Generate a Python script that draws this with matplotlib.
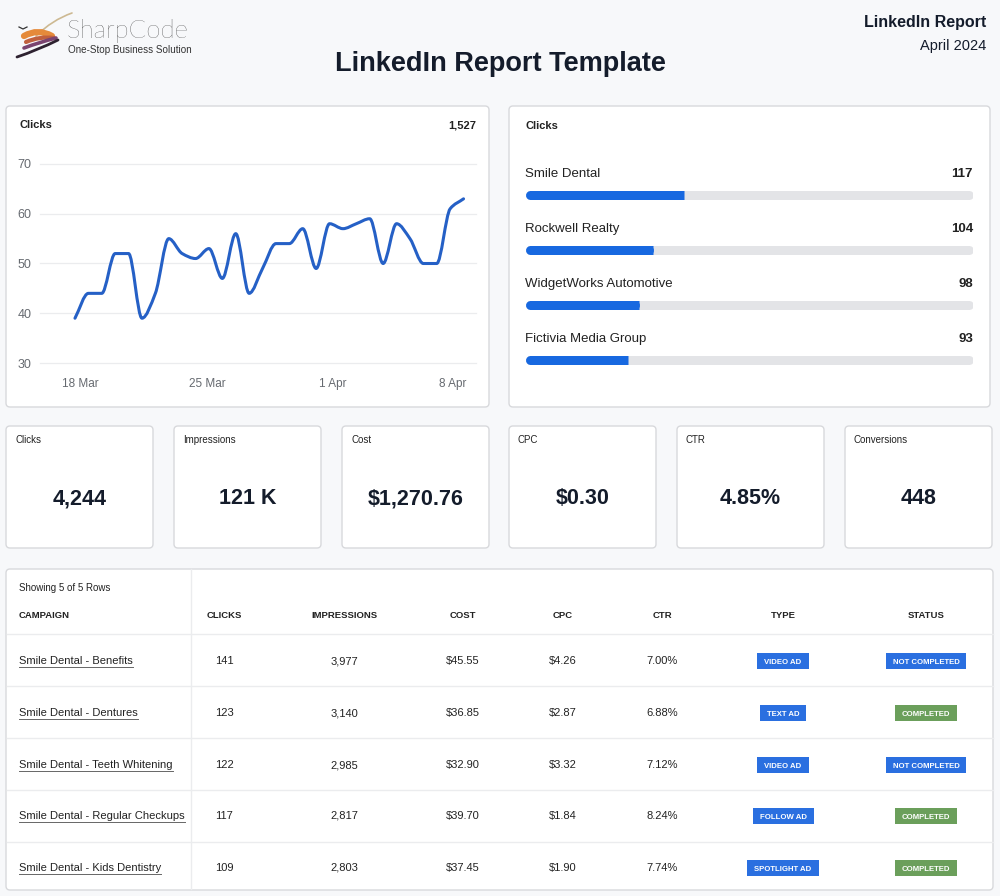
import numpy as np
import matplotlib
matplotlib.use("Agg")
import matplotlib.pyplot as plt
from matplotlib.patches import FancyBboxPatch, PathPatch, Rectangle
from matplotlib.path import Path

plt.rcParams['font.family'] = ['Liberation Sans', 'DejaVu Sans']

W, H = 1000, 896

# ---- data ----
click_values = [39, 44, 44, 52, 52, 39, 44, 55, 52, 51, 53, 47, 56, 44, 49,
                54, 54, 57, 49, 58, 57, 58, 59, 50, 58, 55, 50, 50, 61, 63]
date_labels = ["18 Mar", "25 Mar", "1 Apr", "8 Apr"]
date_label_pos = [0.4, 9.9, 19.25, 28.2]
y_ticks = [30, 40, 50, 60, 70]
clicks_total = "1,527"

accounts = ["Smile Dental", "Rockwell Realty", "WidgetWorks Automotive", "Fictivia Media Group"]
account_clicks = [117, 104, 98, 93]

kpi_names = ["Clicks", "Impressions", "Cost", "CPC", "CTR", "Conversions"]
kpi_values = ["4,244", "121 K", "$1,270.76", "$0.30", "4.85%", "448"]

table_cols = ["CAMPAIGN", "CLICKS", "IMPRESSIONS", "COST", "CPC", "CTR", "TYPE", "STATUS"]
campaigns = ["Smile Dental - Benefits", "Smile Dental - Dentures", "Smile Dental - Teeth Whitening",
             "Smile Dental - Regular Checkups", "Smile Dental - Kids Dentistry"]
camp_clicks = [141, 123, 122, 117, 109]
camp_impr = ["3,977", "3,140", "2,985", "2,817", "2,803"]
camp_cost = ["$45.55", "$36.85", "$32.90", "$39.70", "$37.45"]
camp_cpc = ["$4.26", "$2.87", "$3.32", "$1.84", "$1.90"]
camp_ctr = ["7.00%", "6.88%", "7.12%", "8.24%", "7.74%"]
camp_type = ["VIDEO AD", "TEXT AD", "VIDEO AD", "FOLLOW AD", "SPOTLIGHT AD"]
camp_status = ["NOT COMPLETED", "COMPLETED", "NOT COMPLETED", "COMPLETED", "COMPLETED"]

# ---- colours ----
BG = '#f7f8fa'
BORDER = '#d8d9dc'
DARK = '#141c2b'
TEXT = '#222222'
GRAY = '#666a70'
LINE_BLUE = '#2560c6'
BAR_BLUE = '#1768e0'
TRACK = '#e3e4e7'
BADGE_BLUE = '#2a6fe0'
BADGE_GREEN = '#6b9f5b'
RULE = '#ebecee'

fig = plt.figure(figsize=(W / 100, H / 100), dpi=100)
fig.patch.set_facecolor(BG)

bg = fig.add_axes([0, 0, 1, 1])
bg.set_xlim(0, W)
bg.set_ylim(H, 0)
bg.axis('off')


def px_axes(x0, y0, x1, y1):
    return fig.add_axes([x0 / W, 1 - y1 / H, (x1 - x0) / W, (y1 - y0) / H])


def card(x0, y0, x1, y1):
    bg.add_patch(FancyBboxPatch((x0, y0), x1 - x0, y1 - y0,
                                boxstyle='round,pad=0,rounding_size=4',
                                fc='white', ec=BORDER, lw=1.0))


def stroke(p0, c, p1, color, lw):
    bg.add_patch(PathPatch(Path([p0, c, p1], [Path.MOVETO, Path.CURVE3, Path.CURVE3]),
                           fc='none', ec=color, lw=lw, capstyle='round'))


# ---- header ----
# rough logo swoosh
stroke((36, 36), (52, 20), (72, 13), '#cdb992', 1.2)
stroke((24, 36), (38, 28), (52, 36), '#e58a3a', 4.5)
stroke((26, 42), (40, 36), (54, 38), '#c0603e', 3.0)
stroke((24, 48), (40, 42), (56, 38), '#7a4470', 2.6)
stroke((17, 57), (38, 50), (58, 40), '#2e2230', 2.0)
bg.plot([19, 23, 27], [27, 29, 27], color='#333333', lw=0.9)
bg.text(67, 31, "SharpCode", fontsize=18.5, family=['Lato', 'DejaVu Sans'], weight='light',
        color='#1c1c1c', va='center', ha='left')
bg.text(68, 50, "One-Stop Business Solution", fontsize=7.1, color='#333333', va='center', ha='left')

bg.text(500, 64, "LinkedIn Report Template", fontsize=19.5, weight='bold', color=DARK,
        ha='center', va='center')
bg.text(986, 22, "LinkedIn Report", fontsize=11.5, weight='bold', color=DARK, ha='right', va='center')
bg.text(986, 46, "April 2024", fontsize=10.5, color=DARK, ha='right', va='center')

# ---- line chart panel ----
card(6, 106, 489, 407)
bg.text(20, 125, "Clicks", fontsize=8, weight='semibold', color=TEXT, va='center')
bg.text(476, 125, clicks_total, fontsize=8, weight='bold', color=TEXT, va='center', ha='right')


def monotone_path(xs, ys):
    xs = np.asarray(xs, float)
    ys = np.asarray(ys, float)
    d = np.diff(ys) / np.diff(xs)
    m = np.zeros_like(ys)
    m[0], m[-1] = d[0], d[-1]
    for i in range(1, len(ys) - 1):
        if d[i - 1] * d[i] <= 0:
            m[i] = 0
        else:
            m[i] = 2 / (1 / d[i - 1] + 1 / d[i])
    verts = [(xs[0], ys[0])]
    codes = [Path.MOVETO]
    for i in range(len(xs) - 1):
        h = xs[i + 1] - xs[i]
        verts += [(xs[i] + h / 3, ys[i] + m[i] * h / 3),
                  (xs[i + 1] - h / 3, ys[i + 1] - m[i + 1] * h / 3),
                  (xs[i + 1], ys[i + 1])]
        codes += [Path.CURVE4] * 3
    return Path(verts, codes)


ax = px_axes(40, 164, 476, 363)
ax.set_facecolor('none')
xs = np.arange(len(click_values))
ax.add_patch(PathPatch(monotone_path(xs, click_values), fc='none', ec=LINE_BLUE, lw=2.2,
                       capstyle='round', joinstyle='round'))
ax.set_xlim(-2.61, 29.93)
ax.set_ylim(30, 70)
ax.set_yticks(y_ticks)
ax.set_xticks(date_label_pos)
ax.set_xticklabels(date_labels)
ax.grid(axis='y', color=RULE, lw=0.9)
ax.set_axisbelow(True)
for s in ax.spines.values():
    s.set_visible(False)
ax.tick_params(axis='y', length=0, pad=6, labelsize=9, labelcolor=GRAY)
ax.tick_params(axis='x', length=0, pad=11, labelsize=8.5, labelcolor=GRAY)
for gl in ax.get_ygridlines():
    gl.set_clip_on(False)

# ---- account bars panel ----
card(509, 106, 990, 407)
bg.text(525, 126, "Clicks", fontsize=8, weight='semibold', color=TEXT, va='center')

lo, hi = 49, 241
bx = px_axes(525, 140, 973, 415)
bx.set_xlim(lo, hi)
bx.set_ylim(4, -1)
bx.axis('off')
bar_lw = 9 * 72 / 100
cap = 4.5 * (hi - lo) / 448
for i, (name, v) in enumerate(zip(accounts, account_clicks)):
    bx.plot([lo + cap, hi - cap], [i, i], color=TRACK, lw=bar_lw, solid_capstyle='round')
    bx.plot([lo + cap, v - cap], [i, i], color=BAR_BLUE, lw=bar_lw, solid_capstyle='round')
    bx.plot([lo + cap, v], [i, i], color=BAR_BLUE, lw=bar_lw, solid_capstyle='butt')
    bx.text(lo, i - 0.38, name, fontsize=9.5, color=TEXT, va='center', ha='left', clip_on=False)
    bx.text(hi, i - 0.38, str(v), fontsize=9.5, weight='bold', color=TEXT, va='center',
            ha='right', clip_on=False)

# ---- KPI cards ----
kpi_x = [6, 174, 342, 509, 677, 845]
for x0, name, val in zip(kpi_x, kpi_names, kpi_values):
    card(x0, 426, x0 + 147, 548)
    bg.text(x0 + 9, 440, name, fontsize=7, color=TEXT, va='center')
    bg.text(x0 + 73.5, 499, val, fontsize=15.5, weight='bold', color=DARK, ha='center', va='center')

# ---- table ----
card(6, 569, 993, 890)
bg.plot([191, 191], [569.5, 889.5], color=RULE, lw=1)
bg.text(19, 588, "Showing 5 of 5 Rows", fontsize=7, color=TEXT, va='center')
col_x = [19, 224, 344, 463, 563, 662, 783, 926]
for cx, col in zip(col_x, table_cols):
    bg.text(cx, 615, col, fontsize=6.8, weight='bold', color=TEXT, va='center',
            ha='left' if col == "CAMPAIGN" else 'center')

row_y = [661, 713, 765, 816, 868]
for ly in [634, 686, 738, 790, 842]:
    bg.plot([6.5, 992.5], [ly, ly], color=RULE, lw=1)

fig.canvas.draw()
renderer = fig.canvas.get_renderer()
inv = bg.transData.inverted()


def badge(cx, cy, label, color):
    t = bg.text(cx, cy + 2.9, label, fontsize=5.6, weight='bold', color='white',
                ha='center', va='baseline', zorder=3)
    ext = t.get_window_extent(renderer)
    (x0, _), (x1, _) = inv.transform([(ext.x0, ext.y0), (ext.x1, ext.y0)])
    bw = (x1 - x0) + 14
    bg.add_patch(Rectangle((cx - bw / 2, cy - 8), bw, 16, fc=color, ec='none', zorder=2))


for r, ry in enumerate(row_y):
    t = bg.text(19, ry, campaigns[r], fontsize=8, color=TEXT, va='center')
    ext = t.get_window_extent(renderer)
    (ux0, uy), (ux1, _) = inv.transform([(ext.x0, ext.y0), (ext.x1, ext.y0)])
    bg.plot([ux0, ux1], [uy + 1, uy + 1], color='#666666', lw=0.7)
    cells = [str(camp_clicks[r]), camp_impr[r], camp_cost[r], camp_cpc[r], camp_ctr[r]]
    for cx, val in zip(col_x[1:6], cells):
        bg.text(cx, ry, val, fontsize=8, color=TEXT, ha='center', va='center')
    badge(col_x[6], ry, camp_type[r], BADGE_BLUE)
    status_c = BADGE_BLUE if camp_status[r] == "NOT COMPLETED" else BADGE_GREEN
    badge(col_x[7], ry, camp_status[r], status_c)

fig.savefig("out.png", dpi=100, facecolor=BG)
